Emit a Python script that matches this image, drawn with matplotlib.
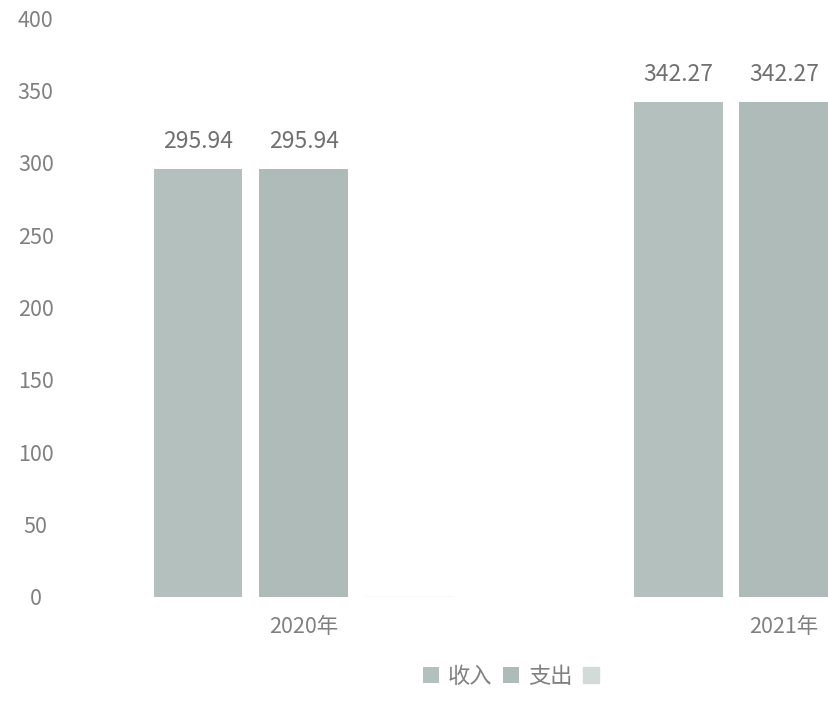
import matplotlib.pyplot as plt
import numpy as np

plt.rcParams['font.family'] = ['Noto Sans CJK SC', 'DejaVu Sans']

years = ['2020年', '2021年']
income = [295.94, 342.27]
expense = [295.94, 342.27]
other = [0, 0]
series_names = ['收入', '支出', ' ']
colors = ['#b3c0bd', '#aebbb8', '#d3dbd9']

fig = plt.figure(figsize=(8.29, 7.04), dpi=100)
ax = fig.add_axes([0.09, 0.152, 0.91, 0.822])

x = np.arange(len(years))
w = 0.185
offsets = [-0.22, 0.0, 0.22]
for vals, name, c, off in zip([income, expense, other], series_names, colors, offsets):
    bars = ax.bar(x + off, vals, w, color=c, label=name,
                  edgecolor=c if max(vals) == 0 else 'none', linewidth=1)
    if max(vals) > 0:
        for b, v in zip(bars, vals):
            ax.text(b.get_x() + b.get_width() / 2, v + 11, f'{v:.2f}',
                    ha='center', va='bottom', fontsize=16.5, color='#707070',
                    fontweight='light')

ax.set_xlim(-0.477, 1.094)
ax.set_ylim(0, 400)
ax.set_yticks(range(0, 401, 50))
ax.set_xticks(x)
ax.set_xticklabels(years)
ax.tick_params(axis='both', length=0, labelsize=15.5, labelcolor='#808080')
ax.tick_params(axis='x', pad=14)
ax.tick_params(axis='y', pad=28)
for lbl in ax.get_yticklabels():
    lbl.set_horizontalalignment('center')
    lbl.set_fontweight('light')
for lbl in ax.get_xticklabels():
    lbl.set_fontweight('light')
for s in ax.spines.values():
    s.set_visible(False)

fig.legend(loc='lower center', bbox_to_anchor=(0.625, -0.005), ncol=3, frameon=False,
           fontsize=16, handlelength=0.7, handleheight=0.7, handletextpad=0.4,
           columnspacing=0.5, labelcolor='#808080')

fig.savefig('out.png', dpi=100)
